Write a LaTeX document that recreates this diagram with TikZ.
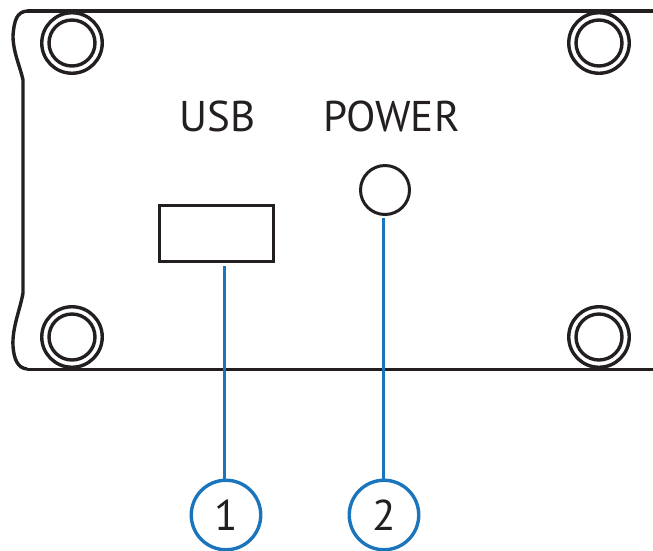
\documentclass[tikz,border=0pt]{standalone}
\usepackage{fontspec}
\setmainfont{PT Sans}
\definecolor{callblue}{HTML}{1B75BC}
\definecolor{inkk}{HTML}{231F20}
\tikzset{
 x=1pt,y=-1pt,
 body/.style={draw=inkk,line width=3.4pt,line join=round},
 ringo/.style={circle,draw=inkk,line width=3.4pt,minimum size=60.5pt,inner sep=0pt},
 ringi/.style={circle,draw=inkk,line width=3.4pt,minimum size=46pt,inner sep=0pt},
 port/.style={draw=inkk,line width=3pt,inner sep=0pt},
 lab/.style={font=\fontsize{43}{43}\selectfont,text=inkk,inner sep=0pt},
 callout/.style={circle,draw=callblue,line width=3.4pt,minimum size=69.5pt,inner sep=0pt,font=\fontsize{43}{43}\selectfont,text=inkk},
 lead/.style={draw=callblue,line width=3pt}
}
\begin{document}
\begin{tikzpicture}
\useasboundingbox (0,0) rectangle (653,550);
\coordinate (tr) at (653,11);
\coordinate (br) at (653,369);
\draw[line width=4.4pt,draw=inkk] (27,11) -- (tr);
\draw[body,line width=3pt] (br) -- (27,369);
\draw[body] (27,11) .. controls (17,12) and (14,20) .. (13,36) .. controls (13,52) and (20,66) .. (23,80) -- (23,293) .. controls (20,310) and (12,328) .. (13,346) .. controls (14,360) and (18,368) .. (27,369);
\foreach \n/\cx/\cy in {a/72/43,b/599/43,c/72/337,d/599/337}{
  \node[ringo] (\n o) at (\cx,\cy) {};
  \node[ringi] (\n i) at (\cx,\cy) {};
}
\fill[inkk] (60,11) rectangle (83,14);
\fill[inkk] (587,11) rectangle (610,14);
\node[port,minimum width=114pt,minimum height=56pt] (usb) at (216,233) {};
\node[circle,draw=inkk,line width=3pt,minimum size=49pt,inner sep=0pt] (pwr) at (385,190) {};
\node[lab] (usbt) at (217.5,116) {USB};
\node[lab] (pwrt) at (391.5,116) {POWER};
\node[callout] (c1) at (226,515) {1};
\node[callout] (c2) at (384,515) {2};
\coordinate (u1) at (224,266);
\coordinate (p1) at (383,218);
\draw[lead] (u1) -- (224,480);
\draw[lead] (p1) -- (383,480);
\end{tikzpicture}
\end{document}
